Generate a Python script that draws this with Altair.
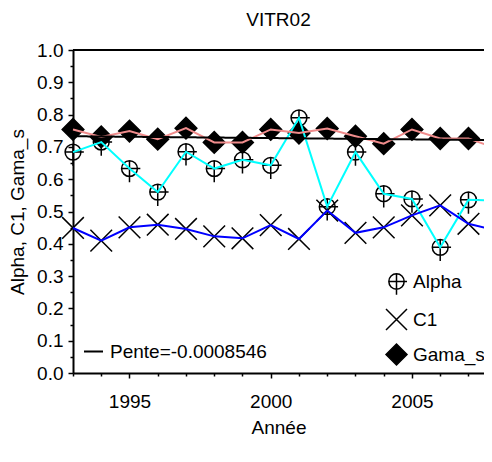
import altair as alt
import pandas as pd

# ---- data ----
years = list(range(1993, 2009))
alpha = [0.684, 0.715, 0.633, 0.560, 0.685, 0.633, 0.660, 0.643,
         0.790, 0.515, 0.684, 0.555, 0.539, 0.389, 0.536, 0.534]
c1 = [0.449, 0.410, 0.451, 0.459, 0.446, 0.423, 0.417, 0.458,
      0.415, 0.503, 0.434, 0.451, 0.488, 0.519, 0.462, 0.441]
gama_s = [0.754, 0.731, 0.749, 0.724, 0.758, 0.714, 0.714, 0.754,
          0.743, 0.757, 0.733, 0.710, 0.754, 0.726, 0.726, 0.695]
series_names = ["Alpha", "C1", "Gama_s"]
line_colors = ["#00FFFF", "#0000FF", "#F08C8C"]
trend_years = [1993, 2008]
trend_values = [0.733, 0.721]
trend_label = "Pente=-0.0008546"
x_ticks = list(range(1993, 2008))
y_ticks = [round(i * 0.05, 2) for i in range(21)]
frame_value = [1.0]

FONT = "Liberation Sans"
FS = 19

rows = []
for name, vals in zip(series_names, [alpha, c1, gama_s]):
    for yr, v in zip(years, vals):
        rows.append({"year": yr, "value": v, "series": name})
df = pd.DataFrame(rows)
trend_df = pd.DataFrame({"year": trend_years, "value": trend_values,
                         "label": [trend_label] * len(trend_years)})
frame_df = pd.DataFrame({"value": frame_value})

ALPHA_PATH = ("M0.73,0A0.73,0.73,0,1,1,-0.73,0A0.73,0.73,0,1,1,0.73,0Z"
              "M-0.73,0L1,0M0,-0.73L0,1.27")
X_PATH = "M-1,-1L1,1M-1,1L1,-1"

xscale = alt.Scale(domain=[1993, 2007.55], nice=False, zero=False)
yscale = alt.Scale(domain=[0, 1], nice=False, zero=False)

x_axis = alt.Axis(
    values=x_ticks, title="Année", grid=False,
    labelExpr="datum.value % 5 == 0 ? format(datum.value, 'd') : ''",
    labelOverlap=False, labelFlush=False,
    labelFont=FONT, labelFontSize=FS, labelColor="black", labelPadding=14,
    titleFont=FONT, titleFontSize=FS, titleColor="black", titleFontWeight="normal",
    titleY=60, titleBaseline="alphabetic",
    domainColor="black", domainWidth=2, tickColor="black", tickWidth=1.5,
    tickSize={"condition": {"test": "datum.value % 5 == 0", "value": 5}, "value": 3},
)
y_axis = alt.Axis(
    values=y_ticks, title="Alpha, C1, Gama_s", grid=False,
    labelExpr="round(datum.value*100) % 10 == 0 ? format(datum.value, '.1f') : ''",
    labelOverlap=False, labelFlush=False,
    labelFont=FONT, labelFontSize=FS, labelColor="black", labelPadding=5,
    titleFont=FONT, titleFontSize=FS, titleColor="black", titleFontWeight="normal",
    titleX=-50, titleBaseline="alphabetic",
    domainColor="black", domainWidth=2, tickColor="black", tickWidth=1.5,
    tickSize={"condition": {"test": "round(datum.value*100) % 10 == 0", "value": 5}, "value": 3},
)

X = alt.X("year:Q", scale=xscale, axis=x_axis)
Y = alt.Y("value:Q", scale=yscale, axis=y_axis)

series_legend = alt.Legend(
    orient="none", legendX=312, legendY=220, title=None, padding=0,
    labelFont=FONT, labelFontSize=FS, labelColor="black", labelOffset=5,
    symbolSize=441, symbolStrokeColor="black", symbolStrokeWidth=1.5,
    symbolOpacity=1, rowPadding=8,
)

frame = alt.Chart(frame_df).mark_rule(color="black", strokeWidth=2).encode(
    y=Y
)

markers = alt.Chart(df).mark_point(
    filled=False, strokeWidth=1.5, size=470, opacity=1,
    fillOpacity=1, strokeOpacity=1
).encode(
    x=X, y=Y,
    shape=alt.Shape("series:N", scale=alt.Scale(domain=series_names,
                    range=[ALPHA_PATH, X_PATH, "diamond"]), legend=series_legend),
    fill=alt.Fill("series:N", scale=alt.Scale(domain=series_names,
                  range=["transparent", "transparent", "black"]), legend=series_legend),
    stroke=alt.Stroke("series:N", scale=alt.Scale(domain=series_names,
                      range=["black", "black", "black"]), legend=series_legend),
)

lines = []
for name, col in zip(series_names, line_colors):
    lines.append(
        alt.Chart(df).transform_filter(alt.datum.series == name)
        .mark_line(color=col, strokeWidth=2)
        .encode(x=X, y=Y)
    )

trend = alt.Chart(trend_df).mark_line(color="black", strokeWidth=2).encode(
    x=X, y=Y,
    strokeDash=alt.StrokeDash(
        "label:N", scale=alt.Scale(range=[[1, 0]]),
        legend=alt.Legend(
            orient="none", legendX=10, legendY=291, title=None, padding=0,
            labelFont=FONT, labelFontSize=FS, labelColor="black", labelOffset=6,
            symbolType="stroke", symbolSize=361, symbolStrokeColor="black",
            symbolStrokeWidth=2,
        ),
    ),
)

chart = alt.layer(frame, markers, *lines, trend).properties(
    width=411, height=323,
    title=alt.TitleParams("VITR02", font=FONT, fontSize=FS, fontWeight="normal",
                          color="black", anchor="middle", dy=-7),
    autosize=alt.AutoSizeParams(type="none"),
    padding={"left": 65, "top": 42, "right": 0, "bottom": 70},
).configure_view(stroke=None)

chart.save("out.html", embed_options={"renderer": "svg", "actions": False})
